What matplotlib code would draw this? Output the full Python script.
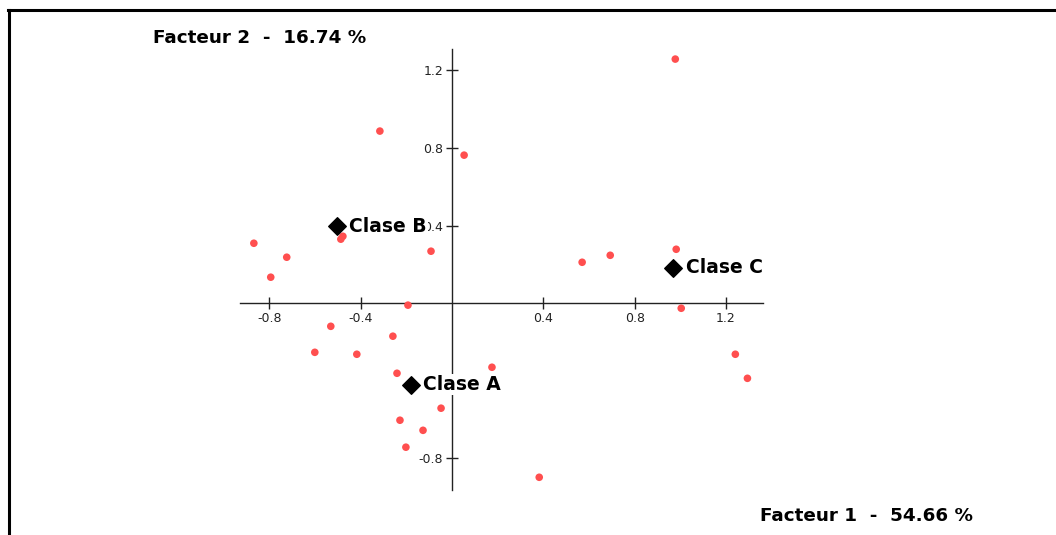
import matplotlib
matplotlib.use("Agg")
import matplotlib.pyplot as plt
from matplotlib.lines import Line2D

plt.rcParams['axes.unicode_minus'] = False

# Data (individual points, factor 1 vs factor 2)
pts_x = [0.978, -0.316, 0.053, -0.868, -0.724, -0.794, -0.478, -0.487, -0.092,
         -0.193, 0.570, 0.693, 0.982, 1.004, -0.531, -0.601, -0.417, -0.259,
         -0.241, 0.175, 1.241, 1.294, -0.048, -0.228, -0.127, -0.202, 0.382]
pts_y = [1.258, 0.887, 0.763, 0.309, 0.237, 0.134, 0.345, 0.330, 0.268,
         -0.010, 0.211, 0.247, 0.278, -0.026, -0.119, -0.253, -0.263, -0.170,
         -0.361, -0.330, -0.263, -0.387, -0.541, -0.603, -0.655, -0.742, -0.897]

class_names = ["Clase A", "Clase B", "Clase C"]
class_x = [-0.181, -0.505, 0.970]
class_y = [-0.419, 0.397, 0.184]

xticks = [-0.8, -0.4, 0.4, 0.8, 1.2]
xticklabels = ["-0.8", "-0.4", "0.4", "0.8", "1.2"]
yticks = [-0.8, -0.4, 0.4, 0.8, 1.2]
yticklabels = ["-0.8", "", "0.4", "0.8", "1.2"]  # -0.4 is hidden behind "Clase A" in the original
xtitle = "Facteur 1  -  54.66 %"
ytitle = "Facteur 2  -  16.74 %"

W, H = 1056, 535
fig = plt.figure(figsize=(W / 100, H / 100), dpi=100)

# frame lines (top and left)
fig.add_artist(Line2D([8 / W, 1.0], [1 - 10 / H, 1 - 10 / H], color='black', lw=2.2,
                      transform=fig.transFigure))
fig.add_artist(Line2D([9 / W, 9 / W], [0, 1 - 10 / H], color='black', lw=2.2,
                      transform=fig.transFigure))

left_px, right_px = 239.7, 762.5
top_px, bot_px = 49.0, 489.5
ax = fig.add_axes([left_px / W, (H - bot_px) / H, (right_px - left_px) / W, (bot_px - top_px) / H])
ax.set_xlim(-0.93, 1.36)
ax.set_ylim(-0.96, 1.31)
ax.patch.set_visible(False)

for s in ['top', 'right']:
    ax.spines[s].set_visible(False)
ax.spines['left'].set_position(('data', 0))
ax.spines['bottom'].set_position(('data', 0))
for s in ['left', 'bottom']:
    ax.spines[s].set_linewidth(1.0)
    ax.spines[s].set_color('#222222')

ax.set_xticks(xticks)
ax.set_yticks(yticks)
ax.set_xticklabels(xticklabels)
ax.set_yticklabels(yticklabels)
ax.tick_params(direction='inout', length=9, width=1.0, color='#222222',
               labelsize=9, labelcolor='#222222', pad=2)
for lab in ax.get_xticklabels() + ax.get_yticklabels():
    lab.set_fontfamily('DejaVu Sans')

ax.scatter(pts_x, pts_y, s=30, color='#ff4f4f', edgecolors='none', zorder=3)

ax.scatter(class_x, class_y, marker='D', s=80, color='black', zorder=4)
for n, x, y in zip(class_names, class_x, class_y):
    ax.annotate(n, (x, y), xytext=(9, 0), textcoords='offset points', va='center', ha='left',
                fontsize=13.5, fontweight='bold', family='DejaVu Sans', color='black',
                bbox=dict(facecolor='white', edgecolor='none', pad=0.5), zorder=5)

fig.text(153 / W, 1 - 38 / H, ytitle, fontsize=13.2, fontweight='bold', family='DejaVu Sans',
         va='center', ha='left')
fig.text(760 / W, 1 - 516 / H, xtitle, fontsize=13.2, fontweight='bold', family='DejaVu Sans',
         va='center', ha='left')

fig.savefig('out.png', dpi=100)
